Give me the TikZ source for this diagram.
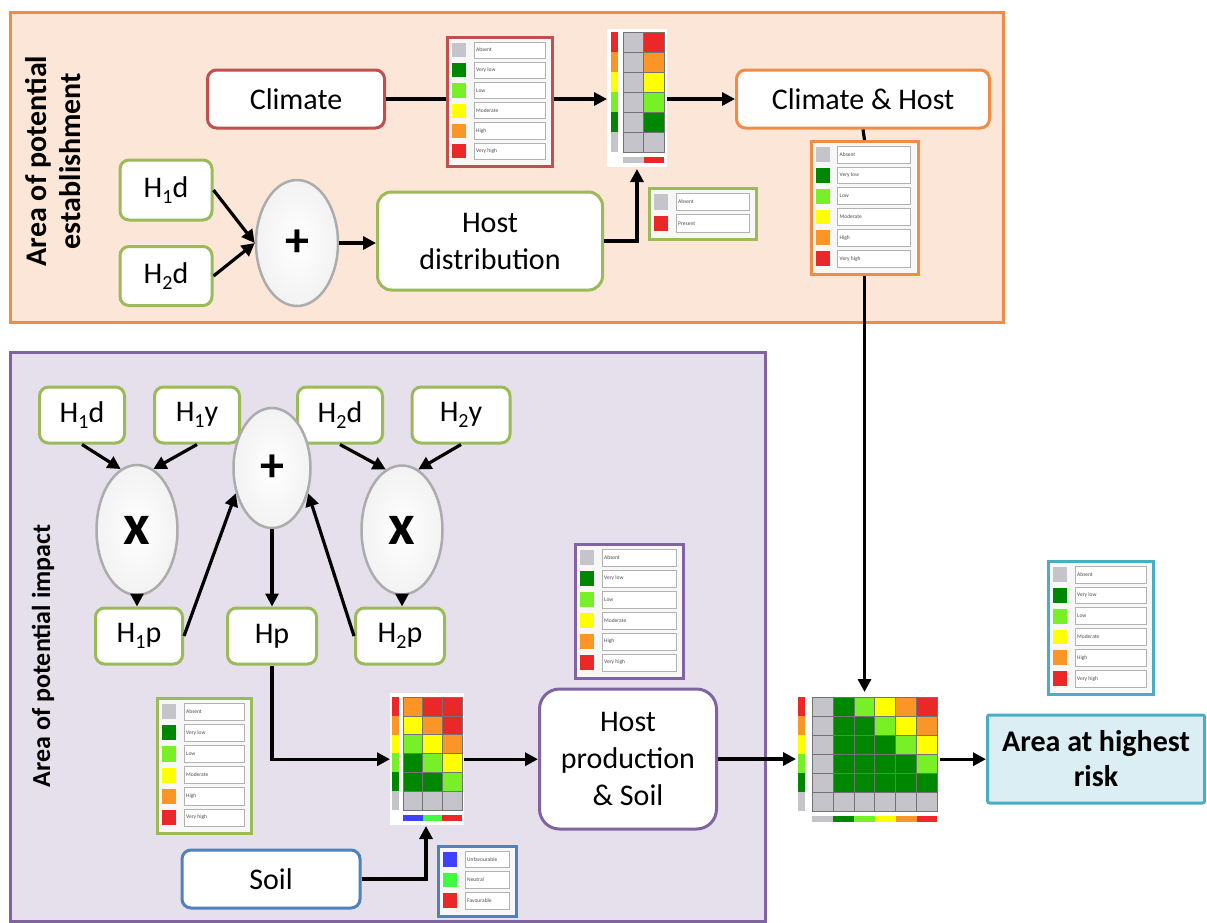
\documentclass[tikz,border=0pt]{standalone}
\usepackage{fontspec}
\setmainfont{Carlito}
\usetikzlibrary{arrows.meta,shapes.geometric,calc}

\definecolor{clim}{RGB}{192,80,77}
\definecolor{grn}{RGB}{155,187,89}
\definecolor{orgB}{RGB}{240,140,70}
\definecolor{orgBg}{RGB}{252,230,216}
\definecolor{purB}{RGB}{128,100,162}
\definecolor{purBg}{RGB}{229,224,236}
\definecolor{soilB}{RGB}{79,129,189}
\definecolor{tealB}{RGB}{75,172,198}
\definecolor{tealBg}{RGB}{218,238,243}
\definecolor{cA}{RGB}{196,196,202}
\definecolor{cD}{RGB}{0,135,0}
\definecolor{cL}{RGB}{120,240,40}
\definecolor{cY}{RGB}{255,255,0}
\definecolor{cO}{RGB}{250,150,40}
\definecolor{cR}{RGB}{235,40,40}
\definecolor{cB}{RGB}{64,64,255}
\definecolor{cN}{RGB}{64,250,64}

\newcommand{\sbs}[1]{\raisebox{-0.22em}{\fontsize{20}{20}\selectfont #1}}

\tikzset{
  box/.style={draw=#1, line width=3pt, rounded corners=9pt, fill=white, align=center,
    font=\fontsize{30}{37}\selectfont, inner sep=0pt},
  oval/.style={ellipse, draw=gray!65, line width=2.5pt, inner color=white, outer color=gray!10,
    inner sep=0pt, font=\bfseries\fontsize{48}{48}\selectfont},
  arr/.style={line width=3.2pt, -{Triangle[length=13pt,width=13pt]}},
  ln/.style={line width=3.2pt},
  lgdbox/.style={draw=#1, line width=3pt, fill=gray!6, inner sep=0pt},
  cell/.style={draw=black!55, line width=0.5pt},
  mbg/.style={fill=white, inner sep=0pt, anchor=north west},
}

% legend: name, x, y, w, h, colour, n, entries
\newcommand{\lgd}[8]{%
  \node[lgdbox=#6, minimum width=#4pt, minimum height=#5pt, anchor=north west] (#1) at (#2,#3) {};
  \pgfmathsetmacro\rh{(#5-8)/#7}
  \foreach \lgc/\lgt [count=\i] in {#8} {
    \pgfmathsetmacro\ya{#3+4+(\i-1)*\rh}
    \pgfmathsetmacro\yb{\ya+\rh}
    \fill[\lgc] (#2+6,\ya+3) rectangle (#2+20,\yb-3);
    \draw[fill=white, draw=gray!60, line width=0.6pt] (#2+28,\ya+2) rectangle (#2+#4-6,\yb-2);
    \node[anchor=west, font=\fontsize{5.5}{6}\selectfont, text=gray!60!black, inner sep=1pt] at (#2+29,{(\ya+\yb)/2}) {\lgt};
  }
}

% matrix: strip x, grid x, cell w, top, row h, rows, bottom colours
\newcommand{\mtx}[7]{%
  \foreach \row [count=\r] in {#6} {
    \pgfmathsetmacro\ya{#4+(\r-1)*#5}
    \pgfmathsetmacro\yb{\ya+#5}
    \foreach \cc [count=\k] in \row {
      \ifnum\k=1
        \fill[\cc] (#1,\ya) rectangle (#1+7,\yb);
      \else
        \draw[cell, fill=\cc] ({#2+(\k-2)*#3},\ya) rectangle ({#2+(\k-1)*#3},\yb);
      \fi
    }
  }
  \pgfmathsetmacro\yc{#4+6*#5+5}
  \foreach \cc [count=\k] in {#7} {
    \fill[\cc] ({#2+(\k-1)*#3},\yc) rectangle ({#2+\k*#3},\yc+6);
  }
}

\begin{document}
\begin{tikzpicture}[x=1pt,y=-1pt]
\useasboundingbox (0,0) rectangle (1207,922);
\fill[white] (0,0) rectangle (1207,922);

% ---------- top panel ----------
\draw[draw=orgB, fill=orgBg, line width=3pt] (10,12) rectangle (1003,322);
\node[rotate=90, font=\bfseries\fontsize{30}{34}\selectfont, align=center] (lab1) at (53,161) {Area of potential\\establishment};

\node[box=clim, minimum width=177pt, minimum height=58pt] (climate) at (296,99) {Climate};
\node[box=orgB, minimum width=253pt, minimum height=58pt] (ch) at (863,99) {Climate \& Host};
\node[box=grn, minimum width=92pt, minimum height=60pt] (th1d) at (166,190) {H\sbs{1}d};
\node[box=grn, minimum width=92pt, minimum height=59pt] (th2d) at (166,276) {H\sbs{2}d};
\node[oval, minimum width=82pt, minimum height=126pt] (tplus) at (297,243) {+};
\node[box=grn, minimum width=225pt, minimum height=98pt, rounded corners=14pt] (hd) at (490,241) {Host\\distribution};

\lgd{lg1}{446}{36}{105}{129}{clim}{6}{cA/Absent,cD/Very low,cL/Low,cY/Moderate,cO/High,cR/Very high}
\lgd{lg2}{809.5}{140}{107}{133}{orgB}{6}{cA/Absent,cD/Very low,cL/Low,cY/Moderate,cO/High,cR/Very high}
\lgd{lg3}{648}{187}{107}{51}{grn}{2}{cA/Absent,cR/Present}

\node[mbg, minimum width=60pt, minimum height=138pt] (m1) at (607,29) {};
\mtx{611}{623}{20.5}{32}{20}{{cR,cA,cR},{cO,cA,cO},{cY,cA,cY},{cL,cA,cL},{cD,cA,cD},{cA,cA,cA}}{cA,cR}
\coordinate (m1in) at (637,169);

\draw[ln] (climate.east) -- (climate.east -| lg1.west);
\draw[arr] (climate.east -| lg1.east) -- (climate.east -| m1.west);
\draw[arr] (m1.east |- ch.west) -- (ch.west);
\draw[ln] (ch.south) -- (lg2.north);
\draw[arr] (th1d.east) -- (tplus.west);
\draw[arr] (th2d.east) -- (tplus.west);
\draw[arr] (tplus.east) -- (tplus.east -| hd.west);
\draw[arr] (hd.east) -| (m1in);

% ---------- bottom panel ----------
\draw[draw=purB, fill=purBg, line width=3pt] (10,352) rectangle (765,921);
\node[rotate=90, font=\bfseries\fontsize{26}{30}\selectfont] (lab2) at (43,656) {Area of potential impact};

\node[box=grn, minimum width=85pt, minimum height=56pt] (ih1d) at (82,415) {H\sbs{1}d};
\node[box=grn, minimum width=85pt, minimum height=56pt] (ih1y) at (197,415) {H\sbs{1}y};
\node[box=grn, minimum width=85pt, minimum height=56pt] (ih2d) at (340,415) {H\sbs{2}d};
\node[box=grn, minimum width=98pt, minimum height=56pt] (ih2y) at (461,415) {H\sbs{2}y};
\node[oval, minimum width=81pt, minimum height=130pt, font=\bfseries\fontsize{58}{58}\selectfont] (xl) at (137,530) {x};
\node[oval, minimum width=77pt, minimum height=120pt] (iplus) at (272,468) {+};
\node[oval, minimum width=81pt, minimum height=129pt, font=\bfseries\fontsize{58}{58}\selectfont] (xr) at (402,530) {x};
\node[box=grn, minimum width=87pt, minimum height=56pt] (ih1p) at (139,636) {H\sbs{1}p};
\node[box=grn, minimum width=89pt, minimum height=56pt] (hp) at (272,636) {Hp};
\node[box=grn, minimum width=89pt, minimum height=56pt] (ih2p) at (400,636) {H\sbs{2}p};

\draw[arr] (ih1d.south) -- (xl.105);
\draw[arr] (ih1y.south) -- (xl.75);
\draw[arr] (ih2d.south) -- (xr.105);
\draw[arr] (ih2y.south) -- (xr.75);
\draw[arr] (xl.south) -- (xl.south |- ih1p.north);
\draw[arr] (xr.south) -- (xr.south |- ih2p.north);
\draw[arr] (ih1p.east) -- (iplus.215);
\draw[arr] (ih2p.west) -- (iplus.325);
\draw[arr] (iplus.south) -- (hp.north);

\lgd{lg4}{156}{697}{94}{135}{grn}{6}{cA/Absent,cD/Very low,cL/Low,cY/Moderate,cO/High,cR/Very high}
\lgd{lg5}{437}{845}{78}{70}{soilB}{3}{cB/Unfavourable,cN/Neutral,cR/Favourable}
\lgd{lg6}{574}{543}{108}{134}{purB}{6}{cA/Absent,cD/Very low,cL/Low,cY/Moderate,cO/High,cR/Very high}
\lgd{lg7}{1047}{560}{105}{133}{tealB}{6}{cA/Absent,cD/Very low,cL/Low,cY/Moderate,cO/High,cR/Very high}

\node[mbg, minimum width=74pt, minimum height=132pt] (m2) at (390,693) {};
\mtx{392}{403}{19.7}{697}{18.8}{{cR,cO,cR,cR},{cO,cY,cO,cR},{cY,cL,cY,cO},{cL,cD,cL,cY},{cD,cD,cD,cL},{cA,cA,cA,cA}}{cB,cN,cR}

\node[mbg, minimum width=144pt, minimum height=134pt] (bigm) at (796,692) {};
\mtx{798}{812}{20.9}{697}{19}{{cR,cA,cD,cL,cY,cO,cR},{cO,cA,cD,cD,cL,cY,cO},{cY,cA,cD,cD,cD,cL,cY},{cL,cA,cD,cD,cD,cD,cL},{cD,cA,cD,cD,cD,cD,cD},{cA,cA,cA,cA,cA,cA,cA}}{cA,cD,cL,cY,cO,cR}

\node[box=soilB, minimum width=178pt, minimum height=58pt] (soil) at (271,879) {Soil};
\node[box=purB, minimum width=177pt, minimum height=140pt, rounded corners=20pt] (hps) at (628,759) {Host\\production\\\& Soil};
\node[draw=tealB, fill=tealBg, line width=3pt, rounded corners=2pt, minimum width=217pt, minimum height=88pt,
      align=center, inner sep=0pt, font=\bfseries\fontsize{30}{35}\selectfont] (risk) at (1096,759) {Area at highest\\risk};

\coordinate (m2in) at (426,826);
\draw[arr] (hp.south) |- (m2.west);
\draw[arr] (soil.east) -| (m2in);
\draw[arr] (m2.east) -- (m2.east -| hps.west);
\draw[arr] (hps.east) -- (hps.east -| bigm.west);
\draw[arr] (bigm.east) -- (bigm.east -| risk.west);
\draw[arr] (lg2.south) -- (lg2.south |- bigm.north);
\end{tikzpicture}
\end{document}
